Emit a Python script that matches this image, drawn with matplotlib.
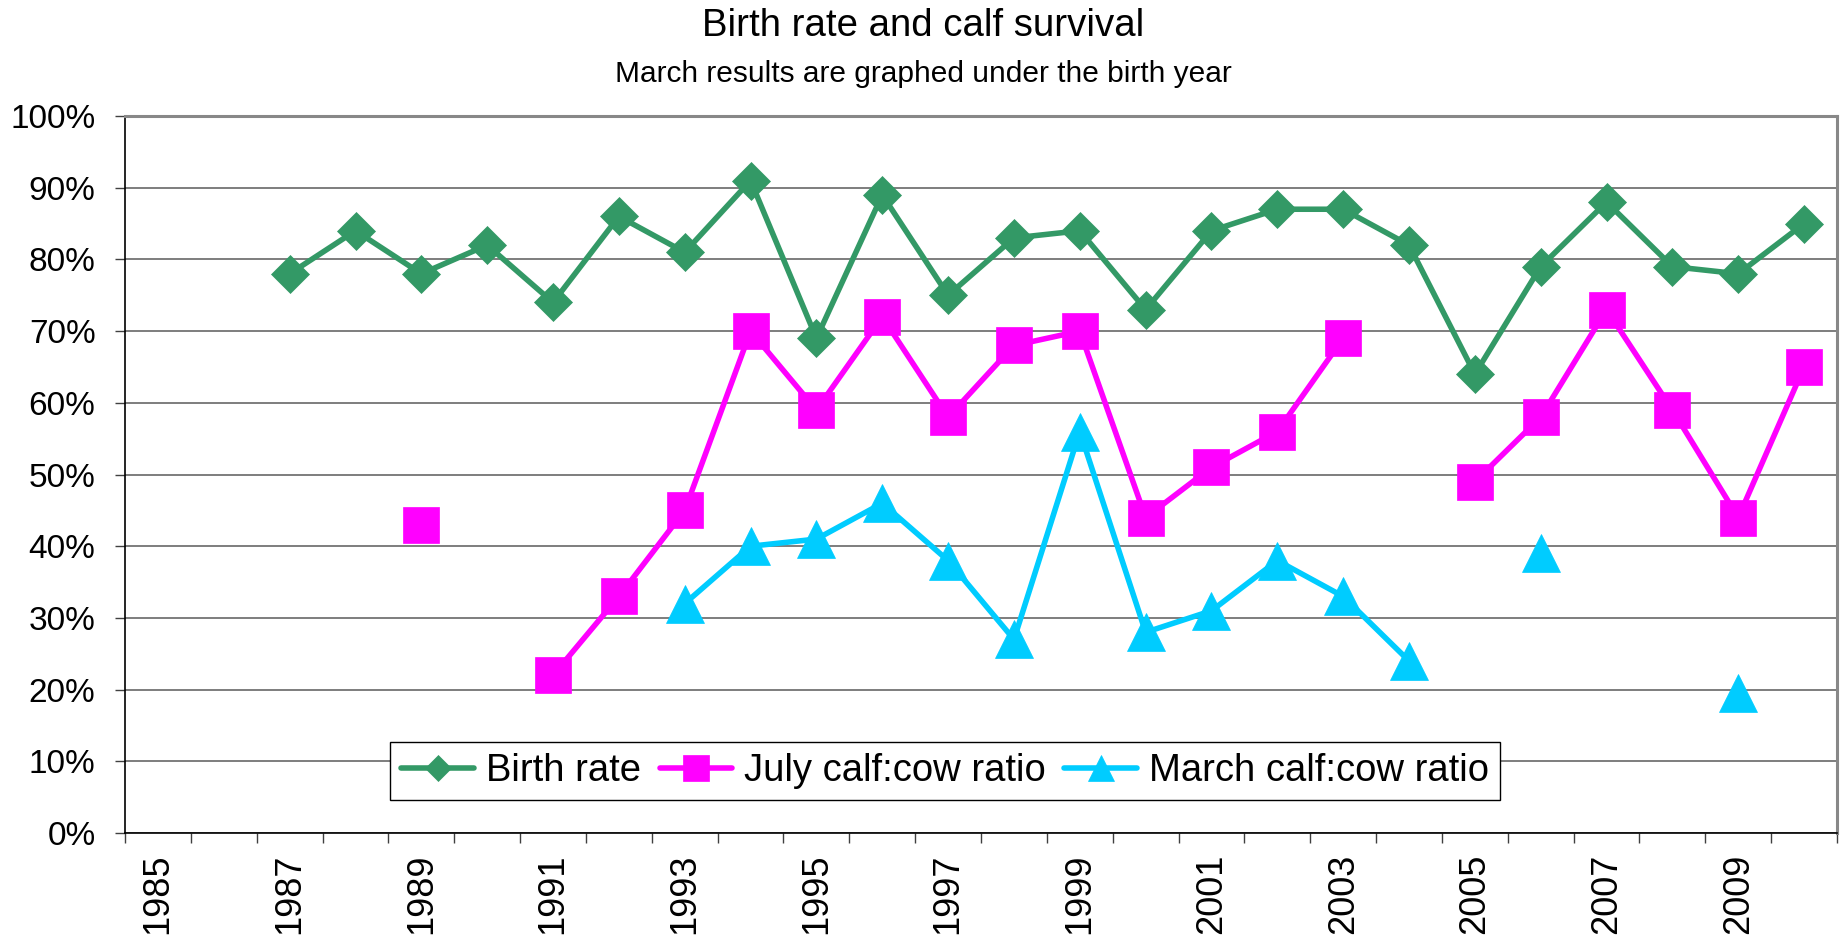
import numpy as np
import matplotlib.pyplot as plt
from matplotlib.ticker import FixedLocator, FuncFormatter

plt.rcParams['font.family'] = ['Liberation Sans', 'DejaVu Sans']

# ---- data (percent), nan = no survey that year ----
years = list(range(1985, 2011))
nan = np.nan
birth_rate = [nan, nan, 78, 84, 78, 82, 74, 86, 81, 91, 69, 89, 75, 83,
              84, 73, 84, 87, 87, 82, 64, 79, 88, 79, 78, 85]
july_ratio = [nan, nan, nan, nan, 43, nan, 22, 33, 45, 70, 59, 72, 58, 68,
              70, 44, 51, 56, 69, nan, 49, 58, 73, 59, 44, 65]
march_ratio = [nan, nan, nan, nan, nan, nan, nan, nan, 32, 40, 41, 46, 38, 27,
               56, 28, 31, 38, 33, 24, nan, 39, nan, nan, 19.5, nan]

series_names = ['Birth rate', 'July calf:cow ratio', 'March calf:cow ratio']

fig = plt.figure(figsize=(18.47, 9.38), dpi=100)
ax = fig.add_axes([0.0677, 0.1119, 0.9946 - 0.0677, 0.8763 - 0.1119])

x = np.arange(len(years))
lw = 4.0
ax.plot(x, birth_rate, color='#339966', lw=lw, marker='D', ms=19.5,
        mec='#339966', mew=0.5, label=series_names[0], solid_capstyle='round', zorder=3)
ax.plot(x, july_ratio, color='#FF00FF', lw=lw, marker='s', ms=26,
        mec='#FF00FF', mew=0.5, label=series_names[1], solid_capstyle='round', zorder=4)
ax.plot(x, march_ratio, color='#00CCFF', lw=lw, marker='^', ms=27,
        mec='#00CCFF', mew=0.5, label=series_names[2], solid_capstyle='round', zorder=5)

# axes
ax.set_xlim(-0.5, len(years) - 0.5)
ax.set_ylim(0, 100)
ax.set_yticks(np.arange(0, 101, 10))
ax.yaxis.set_major_formatter(FuncFormatter(lambda v, p: f'{v:.0f}%'))
ax.tick_params(axis='y', which='major', length=7.2, width=1.0, color='#404040',
               pad=14, labelsize=24)

ax.xaxis.set_major_locator(FixedLocator(np.arange(-0.5, len(years), 1.0)))
ax.xaxis.set_major_formatter(FuncFormatter(lambda v, p: ''))
ax.xaxis.set_minor_locator(FixedLocator(x[::2]))
ax.set_xticklabels([str(y) for y in years[::2]], minor=True, rotation=90, va='top')
ax.tick_params(axis='x', which='major', length=7.2, width=1.0, color='#404040')
ax.tick_params(axis='x', which='minor', length=0, pad=15, labelsize=26)

ax.grid(axis='y', color='#5a5a5a', lw=1.1, zorder=0)
ax.set_axisbelow(True)

for side in ['top', 'right']:
    ax.spines[side].set_color('#888888')
    ax.spines[side].set_linewidth(2.2)
for side in ['left', 'bottom']:
    ax.spines[side].set_color('#000000')
    ax.spines[side].set_linewidth(1.2)

# titles
fig.text(0.5, 1 - 36 / 938, 'Birth rate and calf survival', ha='center',
         va='baseline', fontsize=27.6)
fig.text(0.5, 1 - 82 / 938, 'March results are graphed under the birth year',
         ha='center', va='baseline', fontsize=21.5)

leg = ax.legend(loc='center', bbox_to_anchor=(945 / 1847, 1 - 771 / 938),
                bbox_transform=fig.transFigure, ncol=3, fontsize=27.5,
                frameon=True, fancybox=False, edgecolor='black', framealpha=1,
                borderpad=0.3, handlelength=1.9, handletextpad=0.3,
                columnspacing=0.5, markerscale=0.7, borderaxespad=0)
leg.get_frame().set_linewidth(1.0)
leg.set_zorder(10)

fig.savefig('out.png', dpi=100)
